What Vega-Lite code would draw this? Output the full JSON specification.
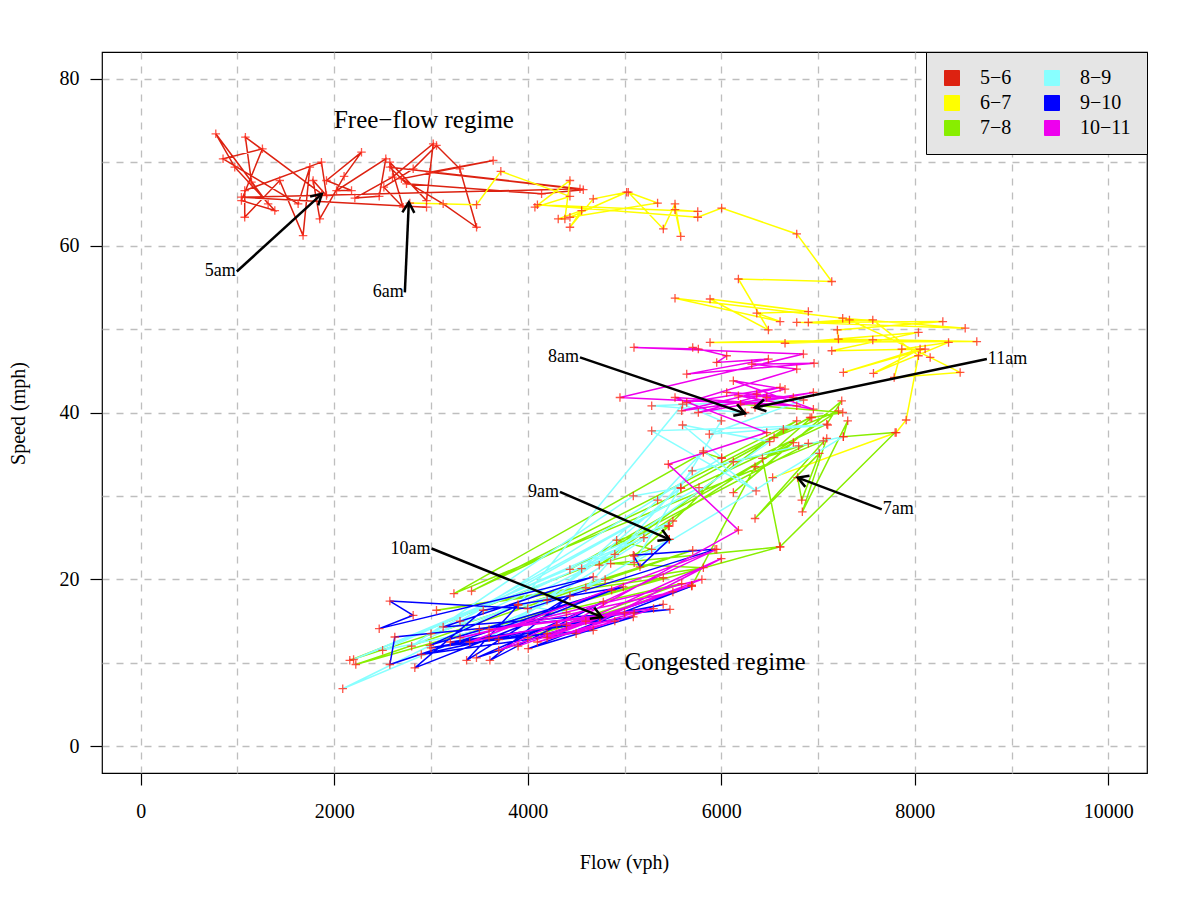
{
  "$schema": "https://vega.github.io/schema/vega-lite/v6.json",
  "width": 1045,
  "height": 721,
  "autosize": "none",
  "padding": {"left": 102, "top": 52, "right": 53, "bottom": 128},
  "background": "white",
  "config": {
    "font": "Liberation Serif",
    "view": {"stroke": "black", "strokeWidth": 1.2},
    "axis": {
      "domain": false,
      "grid": true,
      "gridColor": "#BEBEBE",
      "gridDash": [7, 7],
      "gridWidth": 1.3,
      "tickColor": "black",
      "tickSize": 12,
      "tickWidth": 1.2,
      "labelFont": "Liberation Serif",
      "labelFontSize": 20,
      "labelColor": "black",
      "titleFont": "Liberation Serif",
      "titleFontSize": 20,
      "titleFontWeight": "normal",
      "titleColor": "black"
    }
  },
  "datasets": {
    "traffic": [
      {"hour": "5−6", "flow": 1870, "speed": 66.2}, {"hour": "5−6", "flow": 1082, "speed": 73.0}, {"hour": "5−6", "flow": 1145, "speed": 67.6},
      {"hour": "5−6", "flow": 1317, "speed": 65.0}, {"hour": "5−6", "flow": 776, "speed": 73.4}, {"hour": "5−6", "flow": 972, "speed": 69.4},
      {"hour": "5−6", "flow": 1386, "speed": 64.2}, {"hour": "5−6", "flow": 1041, "speed": 65.4}, {"hour": "5−6", "flow": 1258, "speed": 71.6},
      {"hour": "5−6", "flow": 851, "speed": 70.4}, {"hour": "5−6", "flow": 1627, "speed": 65.0}, {"hour": "5−6", "flow": 1748, "speed": 69.4},
      {"hour": "5−6", "flow": 1678, "speed": 61.2}, {"hour": "5−6", "flow": 1437, "speed": 67.8}, {"hour": "5−6", "flow": 1075, "speed": 63.4},
      {"hour": "5−6", "flow": 1075, "speed": 66.6}, {"hour": "5−6", "flow": 1868, "speed": 70.0}, {"hour": "5−6", "flow": 1920, "speed": 66.0},
      {"hour": "5−6", "flow": 1782, "speed": 67.8}, {"hour": "5−6", "flow": 1851, "speed": 63.2}, {"hour": "5−6", "flow": 2102, "speed": 68.3},
      {"hour": "5−6", "flow": 2282, "speed": 71.2}, {"hour": "5−6", "flow": 1920, "speed": 67.8}, {"hour": "5−6", "flow": 2179, "speed": 66.6},
      {"hour": "5−6", "flow": 2024, "speed": 66.6}, {"hour": "5−6", "flow": 2533, "speed": 70.4}, {"hour": "5−6", "flow": 2465, "speed": 65.9},
      {"hour": "5−6", "flow": 2213, "speed": 65.7}, {"hour": "5−6", "flow": 2602, "speed": 68.2}, {"hour": "5−6", "flow": 3023, "speed": 72.2},
      {"hour": "5−6", "flow": 2954, "speed": 65.4}, {"hour": "5−6", "flow": 2575, "speed": 70.0}, {"hour": "5−6", "flow": 2712, "speed": 64.6},
      {"hour": "5−6", "flow": 2513, "speed": 67.0}, {"hour": "5−6", "flow": 2816, "speed": 69.2}, {"hour": "5−6", "flow": 3057, "speed": 72.0},
      {"hour": "5−6", "flow": 3298, "speed": 69.2}, {"hour": "5−6", "flow": 3471, "speed": 62.2}, {"hour": "5−6", "flow": 3126, "speed": 65.0},
      {"hour": "5−6", "flow": 2695, "speed": 68.0}, {"hour": "5−6", "flow": 3643, "speed": 70.2}, {"hour": "5−6", "flow": 2988, "speed": 68.8},
      {"hour": "5−6", "flow": 4574, "speed": 66.7}, {"hour": "5−6", "flow": 4143, "speed": 66.2}, {"hour": "5−6", "flow": 2747, "speed": 67.4},
      {"hour": "5−6", "flow": 2575, "speed": 69.4}, {"hour": "5−6", "flow": 4540, "speed": 66.8}, {"hour": "5−6", "flow": 1041, "speed": 65.8},
      {"hour": "5−6", "flow": 2954, "speed": 64.6},

      {"hour": "6−7", "flow": 2781, "speed": 65.1}, {"hour": "6−7", "flow": 3471, "speed": 64.9}, {"hour": "6−7", "flow": 3722, "speed": 68.9},
      {"hour": "6−7", "flow": 4436, "speed": 65.9}, {"hour": "6−7", "flow": 4074, "speed": 64.6}, {"hour": "6−7", "flow": 4436, "speed": 67.8},
      {"hour": "6−7", "flow": 4384, "speed": 63.2}, {"hour": "6−7", "flow": 4315, "speed": 63.2}, {"hour": "6−7", "flow": 4557, "speed": 64.2},
      {"hour": "6−7", "flow": 4436, "speed": 62.2}, {"hour": "6−7", "flow": 4677, "speed": 65.6}, {"hour": "6−7", "flow": 5022, "speed": 66.4},
      {"hour": "6−7", "flow": 4436, "speed": 63.4}, {"hour": "6−7", "flow": 5342, "speed": 65.1}, {"hour": "6−7", "flow": 5039, "speed": 66.4},
      {"hour": "6−7", "flow": 5401, "speed": 62.0}, {"hour": "6−7", "flow": 5522, "speed": 65.0}, {"hour": "6−7", "flow": 5581, "speed": 61.1},
      {"hour": "6−7", "flow": 5522, "speed": 64.3}, {"hour": "6−7", "flow": 5757, "speed": 64.1}, {"hour": "6−7", "flow": 4100, "speed": 64.9},
      {"hour": "6−7", "flow": 5757, "speed": 63.4}, {"hour": "6−7", "flow": 6004, "speed": 64.5}, {"hour": "6−7", "flow": 6780, "speed": 61.4},
      {"hour": "6−7", "flow": 7142, "speed": 55.7}, {"hour": "6−7", "flow": 6177, "speed": 56.0}, {"hour": "6−7", "flow": 6487, "speed": 49.9},
      {"hour": "6−7", "flow": 5884, "speed": 53.6}, {"hour": "6−7", "flow": 6900, "speed": 52.1}, {"hour": "6−7", "flow": 6367, "speed": 51.9},
      {"hour": "6−7", "flow": 6608, "speed": 50.9}, {"hour": "6−7", "flow": 5522, "speed": 53.7}, {"hour": "6−7", "flow": 7255, "speed": 51.3},
      {"hour": "6−7", "flow": 8521, "speed": 50.1}, {"hour": "6−7", "flow": 6780, "speed": 50.8}, {"hour": "6−7", "flow": 8290, "speed": 50.9},
      {"hour": "6−7", "flow": 7200, "speed": 49.9}, {"hour": "6−7", "flow": 7211, "speed": 48.8}, {"hour": "6−7", "flow": 8641, "speed": 48.5},
      {"hour": "6−7", "flow": 5884, "speed": 48.4}, {"hour": "6−7", "flow": 7566, "speed": 48.7}, {"hour": "6−7", "flow": 6659, "speed": 48.3},
      {"hour": "6−7", "flow": 8038, "speed": 49.6}, {"hour": "6−7", "flow": 7142, "speed": 47.4}, {"hour": "6−7", "flow": 8107, "speed": 47.6},
      {"hour": "6−7", "flow": 7262, "speed": 44.8}, {"hour": "6−7", "flow": 8055, "speed": 47.6}, {"hour": "6−7", "flow": 7573, "speed": 44.7},
      {"hour": "6−7", "flow": 8349, "speed": 48.4}, {"hour": "6−7", "flow": 7866, "speed": 47.6}, {"hour": "6−7", "flow": 7787, "speed": 44.2},
      {"hour": "6−7", "flow": 8469, "speed": 44.8}, {"hour": "6−7", "flow": 8159, "speed": 46.6}, {"hour": "6−7", "flow": 7325, "speed": 51.1},
      {"hour": "6−7", "flow": 6900, "speed": 50.8}, {"hour": "6−7", "flow": 7566, "speed": 51.1}, {"hour": "6−7", "flow": 8038, "speed": 46.8},
      {"hour": "6−7", "flow": 7911, "speed": 39.1}, {"hour": "6−7", "flow": 7808, "speed": 37.6}, {"hour": "6−7", "flow": 6531, "speed": 32.2},

      {"hour": "7−8", "flow": 6789, "speed": 32.2}, {"hour": "7−8", "flow": 6832, "speed": 29.5}, {"hour": "7−8", "flow": 7014, "speed": 35.1},
      {"hour": "7−8", "flow": 6349, "speed": 27.3}, {"hour": "7−8", "flow": 7090, "speed": 36.9}, {"hour": "7−8", "flow": 6838, "speed": 28.1},
      {"hour": "7−8", "flow": 7307, "speed": 39.0}, {"hour": "7−8", "flow": 7262, "speed": 37.1}, {"hour": "7−8", "flow": 7797, "speed": 37.6},
      {"hour": "7−8", "flow": 6608, "speed": 23.9}, {"hour": "7−8", "flow": 6425, "speed": 34.5}, {"hour": "7−8", "flow": 6900, "speed": 36.3},
      {"hour": "7−8", "flow": 4436, "speed": 21.2}, {"hour": "7−8", "flow": 6745, "speed": 36.4}, {"hour": "7−8", "flow": 6125, "speed": 30.4},
      {"hour": "7−8", "flow": 7245, "speed": 41.4}, {"hour": "7−8", "flow": 7090, "speed": 38.6}, {"hour": "7−8", "flow": 3419, "speed": 18.6},
      {"hour": "7−8", "flow": 6918, "speed": 39.4}, {"hour": "7−8", "flow": 5584, "speed": 30.9}, {"hour": "7−8", "flow": 6546, "speed": 37.0},
      {"hour": "7−8", "flow": 7211, "speed": 40.2}, {"hour": "7−8", "flow": 4739, "speed": 21.7}, {"hour": "7−8", "flow": 6642, "speed": 38.0},
      {"hour": "7−8", "flow": 6780, "speed": 39.0}, {"hour": "7−8", "flow": 6004, "speed": 34.5}, {"hour": "7−8", "flow": 5815, "speed": 35.2},
      {"hour": "7−8", "flow": 3237, "speed": 18.3}, {"hour": "7−8", "flow": 7055, "speed": 36.6}, {"hour": "7−8", "flow": 6125, "speed": 34.1},
      {"hour": "7−8", "flow": 5453, "speed": 26.4}, {"hour": "7−8", "flow": 5101, "speed": 22.8}, {"hour": "7−8", "flow": 5463, "speed": 26.4},
      {"hour": "7−8", "flow": 4919, "speed": 24.7}, {"hour": "7−8", "flow": 5281, "speed": 23.6}, {"hour": "7−8", "flow": 4557, "speed": 21.3},
      {"hour": "7−8", "flow": 2161, "speed": 10.3}, {"hour": "7−8", "flow": 5705, "speed": 23.5}, {"hour": "7−8", "flow": 2223, "speed": 9.8},
      {"hour": "7−8", "flow": 5401, "speed": 20.2}, {"hour": "7−8", "flow": 3057, "speed": 16.3}, {"hour": "7−8", "flow": 5815, "speed": 21.4},
      {"hour": "7−8", "flow": 4857, "speed": 21.9}, {"hour": "7−8", "flow": 6608, "speed": 23.9}, {"hour": "7−8", "flow": 3500, "speed": 14.0},
      {"hour": "7−8", "flow": 5591, "speed": 19.5}, {"hour": "7−8", "flow": 4000, "speed": 13.0}, {"hour": "7−8", "flow": 5695, "speed": 19.2},
      {"hour": "7−8", "flow": 6349, "speed": 33.5}, {"hour": "7−8", "flow": 6935, "speed": 39.4}, {"hour": "7−8", "flow": 7256, "speed": 40.0},
      {"hour": "7−8", "flow": 6200, "speed": 41.0},

      {"hour": "8−9", "flow": 6246, "speed": 40.0}, {"hour": "8−9", "flow": 5281, "speed": 40.8}, {"hour": "8−9", "flow": 6850, "speed": 41.5},
      {"hour": "8−9", "flow": 5877, "speed": 37.4}, {"hour": "8−9", "flow": 7100, "speed": 38.5}, {"hour": "8−9", "flow": 5281, "speed": 37.8},
      {"hour": "8−9", "flow": 6360, "speed": 30.6}, {"hour": "8−9", "flow": 5815, "speed": 35.4}, {"hour": "8−9", "flow": 5342, "speed": 29.5},
      {"hour": "8−9", "flow": 4200, "speed": 17.5}, {"hour": "8−9", "flow": 5581, "speed": 31.0}, {"hour": "8−9", "flow": 5091, "speed": 30.0},
      {"hour": "8−9", "flow": 2800, "speed": 12.0}, {"hour": "8−9", "flow": 5200, "speed": 25.0}, {"hour": "8−9", "flow": 2200, "speed": 10.4},
      {"hour": "8−9", "flow": 4900, "speed": 23.0}, {"hour": "8−9", "flow": 2088, "speed": 6.9}, {"hour": "8−9", "flow": 4800, "speed": 20.0},
      {"hour": "8−9", "flow": 3000, "speed": 13.5}, {"hour": "8−9", "flow": 5770, "speed": 31.0}, {"hour": "8−9", "flow": 3300, "speed": 15.0},
      {"hour": "8−9", "flow": 6004, "speed": 34.6}, {"hour": "8−9", "flow": 5600, "speed": 38.5}, {"hour": "8−9", "flow": 6500, "speed": 36.5},
      {"hour": "8−9", "flow": 3600, "speed": 13.0}, {"hour": "8−9", "flow": 5500, "speed": 27.0}, {"hour": "8−9", "flow": 2500, "speed": 11.5},
      {"hour": "8−9", "flow": 4400, "speed": 16.0}, {"hour": "8−9", "flow": 3900, "speed": 17.0}, {"hour": "8−9", "flow": 5600, "speed": 41.0},
      {"hour": "8−9", "flow": 6000, "speed": 39.0}, {"hour": "8−9", "flow": 5100, "speed": 22.0}, {"hour": "8−9", "flow": 7262, "speed": 37.1},
      {"hour": "8−9", "flow": 6800, "speed": 36.0}, {"hour": "8−9", "flow": 5700, "speed": 33.0}, {"hour": "8−9", "flow": 4600, "speed": 19.0},
      {"hour": "8−9", "flow": 5463, "speed": 24.8},

      {"hour": "9−10", "flow": 5463, "speed": 24.8}, {"hour": "9−10", "flow": 5160, "speed": 21.5}, {"hour": "9−10", "flow": 5091, "speed": 22.9},
      {"hour": "9−10", "flow": 5936, "speed": 23.6}, {"hour": "9−10", "flow": 4000, "speed": 16.5}, {"hour": "9−10", "flow": 2575, "speed": 17.4},
      {"hour": "9−10", "flow": 2816, "speed": 15.7}, {"hour": "9−10", "flow": 2465, "speed": 14.1}, {"hour": "9−10", "flow": 4677, "speed": 20.3},
      {"hour": "9−10", "flow": 3126, "speed": 14.3}, {"hour": "9−10", "flow": 5470, "speed": 16.4}, {"hour": "9−10", "flow": 2626, "speed": 13.1},
      {"hour": "9−10", "flow": 2575, "speed": 9.8}, {"hour": "9−10", "flow": 4867, "speed": 18.7}, {"hour": "9−10", "flow": 2833, "speed": 9.4},
      {"hour": "9−10", "flow": 3540, "speed": 16.3}, {"hour": "9−10", "flow": 4988, "speed": 19.1}, {"hour": "9−10", "flow": 2988, "speed": 12.1},
      {"hour": "9−10", "flow": 3902, "speed": 16.9}, {"hour": "9−10", "flow": 3368, "speed": 10.3}, {"hour": "9−10", "flow": 4436, "speed": 18.0},
      {"hour": "9−10", "flow": 3609, "speed": 10.3}, {"hour": "9−10", "flow": 4781, "speed": 17.3}, {"hour": "9−10", "flow": 3470, "speed": 10.6},
      {"hour": "9−10", "flow": 5695, "speed": 19.2}, {"hour": "9−10", "flow": 4005, "speed": 11.7}, {"hour": "9−10", "flow": 5091, "speed": 15.5},
      {"hour": "9−10", "flow": 3200, "speed": 12.5}, {"hour": "9−10", "flow": 4677, "speed": 13.9}, {"hour": "9−10", "flow": 2900, "speed": 11.0},
      {"hour": "9−10", "flow": 4300, "speed": 14.5}, {"hour": "9−10", "flow": 5400, "speed": 17.0}, {"hour": "9−10", "flow": 3700, "speed": 12.8},
      {"hour": "9−10", "flow": 4600, "speed": 15.0}, {"hour": "9−10", "flow": 3000, "speed": 11.8}, {"hour": "9−10", "flow": 4200, "speed": 13.5},
      {"hour": "9−10", "flow": 5000, "speed": 16.0}, {"hour": "9−10", "flow": 4746, "speed": 15.5},

      {"hour": "10−11", "flow": 4746, "speed": 15.5}, {"hour": "10−11", "flow": 3400, "speed": 12.5}, {"hour": "10−11", "flow": 5953, "speed": 23.6},
      {"hour": "10−11", "flow": 3700, "speed": 11.5}, {"hour": "10−11", "flow": 5695, "speed": 19.3}, {"hour": "10−11", "flow": 3900, "speed": 12.0},
      {"hour": "10−11", "flow": 5500, "speed": 18.5}, {"hour": "10−11", "flow": 3300, "speed": 13.0}, {"hour": "10−11", "flow": 5800, "speed": 20.0},
      {"hour": "10−11", "flow": 4200, "speed": 13.0}, {"hour": "10−11", "flow": 6000, "speed": 22.5}, {"hour": "10−11", "flow": 4500, "speed": 13.5},
      {"hour": "10−11", "flow": 5300, "speed": 16.5}, {"hour": "10−11", "flow": 3600, "speed": 14.0}, {"hour": "10−11", "flow": 5100, "speed": 16.0},
      {"hour": "10−11", "flow": 4100, "speed": 12.5}, {"hour": "10−11", "flow": 4900, "speed": 15.0}, {"hour": "10−11", "flow": 4400, "speed": 14.5},
      {"hour": "10−11", "flow": 6177, "speed": 25.9}, {"hour": "10−11", "flow": 5453, "speed": 33.8}, {"hour": "10−11", "flow": 6470, "speed": 37.6},
      {"hour": "10−11", "flow": 5522, "speed": 41.8}, {"hour": "10−11", "flow": 6780, "speed": 40.8}, {"hour": "10−11", "flow": 4953, "speed": 41.8},
      {"hour": "10−11", "flow": 6849, "speed": 47.0}, {"hour": "10−11", "flow": 5098, "speed": 47.8}, {"hour": "10−11", "flow": 5763, "speed": 47.6},
      {"hour": "10−11", "flow": 5705, "speed": 47.8}, {"hour": "10−11", "flow": 6056, "speed": 46.8}, {"hour": "10−11", "flow": 5953, "speed": 46.0},
      {"hour": "10−11", "flow": 6487, "speed": 46.4}, {"hour": "10−11", "flow": 5643, "speed": 44.6}, {"hour": "10−11", "flow": 6959, "speed": 45.9},
      {"hour": "10−11", "flow": 6315, "speed": 45.8}, {"hour": "10−11", "flow": 6780, "speed": 45.2}, {"hour": "10−11", "flow": 5643, "speed": 41.2},
      {"hour": "10−11", "flow": 6608, "speed": 43.0}, {"hour": "10−11", "flow": 5591, "speed": 40.2}, {"hour": "10−11", "flow": 6952, "speed": 42.4},
      {"hour": "10−11", "flow": 5763, "speed": 40.0}, {"hour": "10−11", "flow": 6659, "speed": 42.8}, {"hour": "10−11", "flow": 6125, "speed": 43.8},
      {"hour": "10−11", "flow": 6952, "speed": 40.4}, {"hour": "10−11", "flow": 6177, "speed": 42.0}, {"hour": "10−11", "flow": 6745, "speed": 41.8},
      {"hour": "10−11", "flow": 6056, "speed": 42.4}, {"hour": "10−11", "flow": 6367, "speed": 42.2}, {"hour": "10−11", "flow": 6470, "speed": 41.8},
      {"hour": "10−11", "flow": 6349, "speed": 40.6}
    ],
    "arrows": [
      {"label": "5am", "flow": 993, "speed": 56.9, "flowEnd": 1872, "speedEnd": 66.2},
      {"label": "6am", "flow": 2730, "speed": 54.4, "flowEnd": 2771, "speedEnd": 65.2},
      {"label": "7am", "flow": 7659, "speed": 28.4, "flowEnd": 6790, "speedEnd": 32.2},
      {"label": "8am", "flow": 4540, "speed": 46.6, "flowEnd": 6246, "speedEnd": 39.9},
      {"label": "9am", "flow": 4333, "speed": 30.5, "flowEnd": 5463, "speedEnd": 24.8},
      {"label": "10am", "flow": 3006, "speed": 23.7, "flowEnd": 4764, "speedEnd": 15.5},
      {"label": "11am", "flow": 8745, "speed": 46.4, "flowEnd": 6349, "speedEnd": 40.6}
    ],
    "notes": [
      {"text": "Free−flow regime", "flow": 2927, "speed": 75.1},
      {"text": "Congested regime", "flow": 5936, "speed": 10.1}
    ]
  },
  "layer": [
    {
      "data": {"name": "traffic"},
      "mark": {"type": "line", "strokeWidth": 1.5},
      "encoding": {
        "x": {
          "field": "flow",
          "type": "quantitative",
          "scale": {"domain": [-400, 10400], "nice": false, "zero": false},
          "axis": {
            "title": "Flow (vph)",
            "values": [0, 1000, 2000, 3000, 4000, 5000, 6000, 7000, 8000, 9000, 10000],
            "format": "d",
            "labelExpr": "datum.value % 2000 === 0 ? datum.label : ''",
            "tickOpacity": {"condition": {"test": "datum.value % 2000 !== 0", "value": 0}, "value": 1},
            "labelPadding": 16,
            "titleX": 522,
            "titleY": 89,
            "titleBaseline": "middle"
          }
        },
        "y": {
          "field": "speed",
          "type": "quantitative",
          "scale": {"domain": [-3.2, 83.2], "nice": false, "zero": false},
          "axis": {
            "title": "Speed (mph)",
            "values": [0, 10, 20, 30, 40, 50, 60, 70, 80],
            "labelExpr": "datum.value % 20 === 0 ? datum.label : ''",
            "tickOpacity": {"condition": {"test": "datum.value % 20 !== 0", "value": 0}, "value": 1},
            "labelPadding": 11,
            "titleX": -84,
            "titleY": 361,
            "titleBaseline": "middle"
          }
        },
        "color": {
          "field": "hour",
          "type": "nominal",
          "scale": {
            "domain": ["5−6", "6−7", "7−8", "8−9", "9−10", "10−11"],
            "range": ["#DD2211", "#FFFF00", "#88EE00", "#88FFFF", "#0000FF", "#EE00EE"]
          },
          "legend": {
            "title": null,
            "orient": "top-right",
            "offset": 0,
            "columns": 2,
            "columnPadding": 30,
            "rowPadding": 5,
            "padding": 16,
            "fillColor": "#E5E5E5",
            "strokeColor": "black",
            "symbolType": "square",
            "symbolSize": 225,
            "symbolStrokeWidth": 1,
            "symbolStrokeColor": "black",
            "labelOffset": 18,
            "labelFont": "Liberation Serif",
            "labelFontSize": 20,
            "labelColor": "black",
            "encode": {
              "symbols": {
                "update": {
                  "fill": {"scale": "color", "field": "value"},
                  "stroke": {"value": "black"},
                  "strokeWidth": {"value": 1},
                  "opacity": {"value": 1}
                }
              }
            }
          }
        },
        "order": {"value": null}
      }
    },
    {
      "data": {"name": "traffic"},
      "mark": {
        "type": "point",
        "shape": "M-1,0L1,0M0,-1L0,1",
        "size": 72,
        "filled": false,
        "color": "#FF2A1A",
        "strokeWidth": 1.3,
        "opacity": 0.8
      },
      "encoding": {
        "x": {"field": "flow", "type": "quantitative", "scale": {"domain": [-400, 10400], "nice": false, "zero": false}},
        "y": {"field": "speed", "type": "quantitative", "scale": {"domain": [-3.2, 83.2], "nice": false, "zero": false}}
      }
    },
    {
      "data": {"name": "arrows"},
      "mark": {"type": "rule", "color": "black", "strokeWidth": 2.5},
      "encoding": {
        "x": {"field": "flow", "type": "quantitative", "scale": {"domain": [-400, 10400], "nice": false, "zero": false}},
        "y": {"field": "speed", "type": "quantitative", "scale": {"domain": [-3.2, 83.2], "nice": false, "zero": false}},
        "x2": {"field": "flowEnd"},
        "y2": {"field": "speedEnd"}
      }
    },
    {
      "data": {"name": "arrows"},
      "transform": [
        {"calculate": "atan2((datum.flowEnd - datum.flow) * 0.09676, (datum.speedEnd - datum.speed) * 8.345) * 180 / PI", "as": "heading"}
      ],
      "mark": {
        "type": "point",
        "shape": "M-0.5,0.866L0,0L0.5,0.866",
        "size": 576,
        "filled": false,
        "color": "black",
        "strokeWidth": 2.5,
        "opacity": 1
      },
      "encoding": {
        "x": {"field": "flowEnd", "type": "quantitative", "scale": {"domain": [-400, 10400], "nice": false, "zero": false}},
        "y": {"field": "speedEnd", "type": "quantitative", "scale": {"domain": [-3.2, 83.2], "nice": false, "zero": false}},
        "angle": {"field": "heading", "type": "quantitative", "scale": null}
      }
    },
    {
      "data": {"name": "arrows"},
      "transform": [{"filter": "datum.flowEnd > datum.flow"}],
      "mark": {"type": "text", "align": "right", "baseline": "middle", "dx": -1, "font": "Liberation Serif", "fontSize": 18, "color": "black"},
      "encoding": {
        "x": {"field": "flow", "type": "quantitative", "scale": {"domain": [-400, 10400], "nice": false, "zero": false}},
        "y": {"field": "speed", "type": "quantitative", "scale": {"domain": [-3.2, 83.2], "nice": false, "zero": false}},
        "text": {"field": "label"}
      }
    },
    {
      "data": {"name": "arrows"},
      "transform": [{"filter": "datum.flowEnd < datum.flow"}],
      "mark": {"type": "text", "align": "left", "baseline": "middle", "dx": 1, "font": "Liberation Serif", "fontSize": 18, "color": "black"},
      "encoding": {
        "x": {"field": "flow", "type": "quantitative", "scale": {"domain": [-400, 10400], "nice": false, "zero": false}},
        "y": {"field": "speed", "type": "quantitative", "scale": {"domain": [-3.2, 83.2], "nice": false, "zero": false}},
        "text": {"field": "label"}
      }
    },
    {
      "data": {"name": "notes"},
      "mark": {"type": "text", "align": "center", "baseline": "middle", "font": "Liberation Serif", "fontSize": 25, "color": "black"},
      "encoding": {
        "x": {"field": "flow", "type": "quantitative", "scale": {"domain": [-400, 10400], "nice": false, "zero": false}},
        "y": {"field": "speed", "type": "quantitative", "scale": {"domain": [-3.2, 83.2], "nice": false, "zero": false}},
        "text": {"field": "text"}
      }
    }
  ]
}
